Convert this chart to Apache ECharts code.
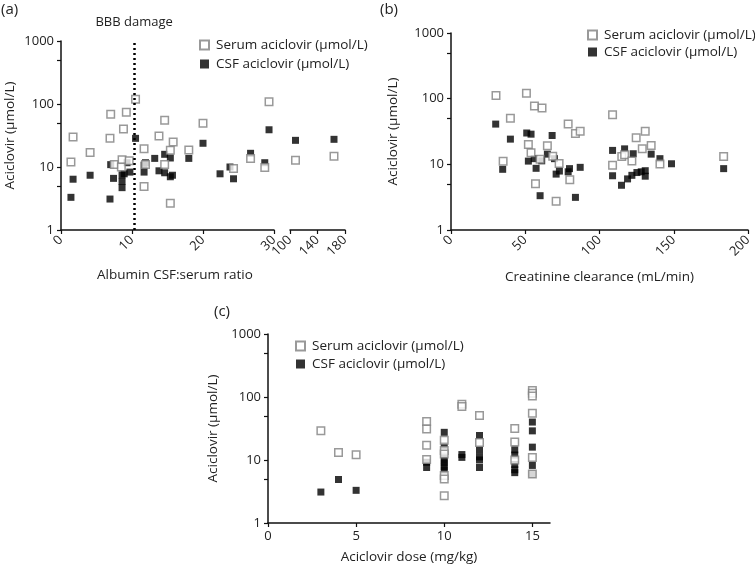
<!DOCTYPE html>
<html><head><meta charset="utf-8">
<script src="https://cdn.jsdelivr.net/npm/echarts@6/dist/echarts.min.js"></script>
<style>html,body{margin:0;padding:0;background:#fff}#c{width:755px;height:567px}</style>
</head><body><div id="c"></div>
<script>
const serumName = 'Serum aciclovir (μmol/L)';
const csfName = 'CSF aciclovir (μmol/L)';
const yLabelValues = [1, 10, 100, 1000];
const yTickValues = [1, 5, 10, 50, 100, 500, 1000];
const doseTicks = [0, 5, 10, 15];
const bbbDamage = 10.3;

// Panel (a): albumin CSF:serum ratio vs aciclovir
const ratioSerum = [[1.4,12],[1.7,30],[4.1,17],[7.0,69],[6.9,28.5],[7.5,11],[8.8,40],[9.2,74],[8.6,13],[8.5,10],[9.6,12.6],[10.5,119],[11.7,19.5],[11.7,4.9],[11.9,11],[13.8,31],[14.6,55],[14.6,11],[15.4,18.5],[15.8,25],[15.4,2.65],[18.0,18.6],[20.0,49.5],[24.3,9.5],[26.7,13.7],[28.7,9.8],[29.3,109],[108,12.8],[164,14.8]];
const ratioCsf = [[1.4,3.3],[1.7,6.4],[4.1,7.4],[6.9,3.1],[7.0,10.9],[7.4,6.6],[8.6,7.5],[8.6,5.9],[8.6,4.7],[8.9,7.8],[9.3,11.7],[9.7,8.3],[10.5,28.5],[11.7,10.7],[11.9,11.7],[11.7,8.3],[13.2,13.7],[13.8,8.7],[14.6,15.9],[14.6,8.1],[15.4,13.9],[15.4,7.0],[15.7,7.4],[18.0,13.7],[20.0,23.8],[22.4,7.8],[23.8,10],[24.3,6.5],[26.7,16.5],[28.7,11.7],[29.3,39],[108,26.5],[164,27.5]];
// Panel (b): creatinine clearance vs aciclovir
const clearanceSerum = [[30.3,112],[35.1,11.1],[40,50.5],[50.8,121],[52.1,20.1],[53.9,15],[56.2,77],[56.9,5.06],[61.3,72],[60,12],[64.9,19.2],[68.5,13.3],[72.8,10.3],[78.9,41],[83.8,29.5],[87,32],[80,5.8],[70.8,2.73],[108.8,57],[108.8,9.7],[115,13.2],[116.9,14],[121.8,11.2],[124.7,25.3],[130.8,32],[128.8,17.2],[134.8,19.4],[140.7,10.1],[183.6,13.2]];
const clearanceCsf = [[30.1,41],[40,24.2],[34.8,8.4],[51,30],[53.9,28.8],[52.1,11.2],[56,12.2],[57.3,8.7],[61.1,11.3],[60,3.33],[64.9,14.3],[68.1,27.5],[69.7,12.2],[70.8,7.1],[73,7.9],[78.9,7.7],[79.8,8.6],[87,9],[83.8,3.14],[108.8,16.3],[108.8,6.7],[116.9,17.2],[122.7,14.5],[134.8,14.3],[140.7,12.2],[148.5,10.2],[114.8,4.8],[118.9,6],[121.8,6.8],[125.2,7.5],[128.1,7.7],[130.8,8],[130.8,6.6],[183.6,8.6]];
// Panel (c): aciclovir dose vs aciclovir
const doseSerum = [[3,29.2],[4,13.2],[5,12.1],[9,40.7],[9,31],[9,17.1],[9,10.2],[10,20.5],[10,14.2],[10,12.5],[10,5.7],[10,5],[10,2.7],[11,76.8],[11,70.5],[12,50.7],[12,19],[14,31.5],[14,19.3],[14,10],[15,127],[15,115],[15,104],[15,55],[15,11],[15,6]];
const doseCsf = [[3,3.1],[4,4.9],[5,3.3],[9,9.2],[9,7.6],[10,27.5],[10,17],[10,12],[10,10],[10,9],[10,7.8],[10,6.9],[11,12.2],[11,11],[12,24.5],[12,14.3],[12,11.2],[12,10],[12,7.6],[14,14.5],[14,12],[14,8.5],[14,7],[14,6.3],[15,40],[15,29],[15,16],[15,8.2],[15,6]];

const FONT = 'Open Sans';
const TXT = '#222';

function yAxis(gridIndex, show, nameGap) {
  return {
    type: 'log', logBase: 10, min: 1, max: 1000, gridIndex: gridIndex, show: show,
    name: show ? 'Aciclovir (μmol/L)' : '', nameLocation: 'middle', nameGap: nameGap || 44,
    nameTextStyle: {fontFamily: FONT, fontSize: 13.5, color: TXT},
    axisLine: {show: true, onZero: false, lineStyle: {color: '#111', width: 1.5}},
    axisTick: {show: true, length: 4, lineStyle: {color: '#111', width: 1.2}, customValues: yTickValues},
    axisLabel: {fontFamily: FONT, fontSize: 13, color: TXT, margin: 7, customValues: yLabelValues,
      formatter: v => String(Math.round(v))},
    splitLine: {show: false}, minorTick: {show: false}
  };
}
function xAxis(gridIndex, min, max, interval, rotate, name, nameGap, custom) {
  const ax = {
    type: 'value', gridIndex: gridIndex, min: min, max: max, interval: interval,
    name: name, nameLocation: 'middle', nameGap: nameGap, nameMoveOverlap: false,
    nameTextStyle: {fontFamily: FONT, fontSize: 13.5, color: TXT},
    axisLine: {show: true, onZero: false, lineStyle: {color: '#111', width: 1.5}},
    axisTick: {show: true, length: 4, lineStyle: {color: '#111', width: 1.2}},
    axisLabel: {fontFamily: FONT, fontSize: 13, color: TXT, rotate: rotate, margin: rotate ? 8 : 7},
    splitLine: {show: false}
  };
  if (custom) { ax.axisTick.customValues = custom; ax.axisLabel.customValues = custom; }
  return ax;
}
const serumStyle = {color: '#fff', borderColor: '#808080', borderWidth: 1.5};
const csfStyle = {color: '#000'};
function serumSeries(data, xi, yi, extra) {
  return Object.assign({type: 'scatter', name: serumName, symbol: 'rect', symbolSize: 7.5,
    itemStyle: serumStyle, data: data, xAxisIndex: xi, yAxisIndex: yi, z: 3}, extra || {});
}
function csfSeries(data, xi, yi) {
  return {type: 'scatter', name: csfName, symbol: 'rect', symbolSize: 7,
    itemStyle: csfStyle, data: data, xAxisIndex: xi, yAxisIndex: yi, z: 2};
}
function legend(left, top, gap) {
  return {orient: 'vertical', left: left, top: top, itemGap: gap, itemWidth: 9, itemHeight: 9,
    icon: 'rect', selectedMode: false, data: [serumName, csfName], width: 200,
    textStyle: {fontFamily: FONT, fontSize: 13.5, color: TXT, padding: [0, 0, 0, 2]}};
}
const lowPart = d => d.filter(p => p[0] <= 30);
const highPart = d => d.filter(p => p[0] >= 100);

const option = {
  animation: false,
  backgroundColor: '#fff',
  grid: [
    {left: 61, top: 41, width: 213, height: 189},
    {left: 290, top: 41, width: 55, height: 189},
    {left: 451, top: 33, width: 297, height: 197},
    {left: 268, top: 334, width: 282, height: 189}
  ],
  xAxis: [
    xAxis(0, 0, 30, 10, 45, '', 0),
    xAxis(1, 100, 180, 40, 45, '', 0),
    xAxis(2, 0, 200, 50, 45, 'Creatinine clearance (mL/min)', 40),
    xAxis(3, 0, 16, 5, 0, 'Aciclovir dose (mg/kg)', 27, doseTicks)
  ],
  yAxis: [yAxis(0, true, 44), yAxis(1, false), yAxis(2, true, 51), yAxis(3, true, 48)],
  legend: [legend(194, 33, 5), legend(582, 23, 3), legend(290, 334, 4)],
  graphic: [
    {type: 'text', left: 1, top: 2, style: {text: '(a)', fontFamily: FONT, fontSize: 15, fill: TXT}},
    {type: 'text', left: 380, top: 2, style: {text: '(b)', fontFamily: FONT, fontSize: 15, fill: TXT}},
    {type: 'text', left: 214, top: 304, style: {text: '(c)', fontFamily: FONT, fontSize: 15, fill: TXT}},
    {type: 'text', left: 97, top: 268, style: {text: 'Albumin CSF:serum ratio', fontFamily: FONT, fontSize: 13.5, fill: TXT}}
  ],
  series: [
    csfSeries(lowPart(ratioCsf), 0, 0),
    serumSeries(lowPart(ratioSerum), 0, 0, {
      markLine: {silent: true, symbol: 'none', animation: false,
        lineStyle: {type: [2, 3], color: '#000', width: 2.5},
        label: {show: true, position: 'end', distance: 12, formatter: 'BBB damage', fontFamily: FONT, fontSize: 13, color: TXT},
        data: [{xAxis: bbbDamage}]}
    }),
    csfSeries(highPart(ratioCsf), 1, 1),
    serumSeries(highPart(ratioSerum), 1, 1),
    csfSeries(clearanceCsf, 2, 2),
    serumSeries(clearanceSerum, 2, 2),
    csfSeries(doseCsf, 3, 3),
    serumSeries(doseSerum, 3, 3)
  ]
};
const chart = echarts.init(document.getElementById('c'), null, {renderer: 'canvas'});
chart.setOption(option);
</script>
</body></html>
